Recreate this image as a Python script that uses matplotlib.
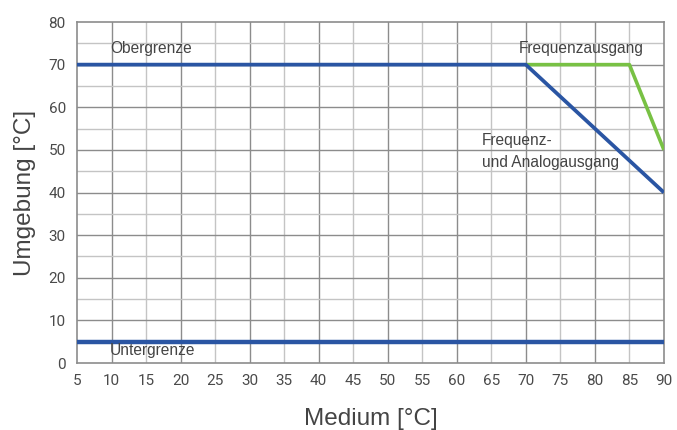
import matplotlib
matplotlib.use("Agg")
import matplotlib.pyplot as plt
import numpy as np

# Daten
medium_analog = [5, 70, 90]
umgebung_analog = [70, 70, 40]
medium_freq = [70, 85, 90]
umgebung_freq = [70, 70, 50]
medium_unten = [5, 90]
umgebung_unten = [5, 5]

x_ticks = list(range(5, 95, 5))
y_ticks = list(range(0, 90, 10))

blau = "#2a55a3"
gruen = "#78c144"
text_grau = "#444444"

fig = plt.figure(figsize=(6.77, 4.30), dpi=100)
ax = fig.add_axes([0.1137, 0.1558, 0.867, 0.793])

ax.set_xlim(5, 90)
ax.set_ylim(0, 80)

# Gitter: volle Zehner dunkler, Fuenfer heller
for xv in x_ticks[1:-1]:
    farbe = "#8c8c8c" if xv % 10 == 0 else "#c4c4c4"
    ax.axvline(xv, color=farbe, lw=1.0, zorder=1)
for yv in np.arange(5, 80, 5):
    farbe = "#8c8c8c" if yv % 10 == 0 else "#c4c4c4"
    ax.axhline(yv, color=farbe, lw=1.0, zorder=1)

ax.plot(medium_freq, umgebung_freq, color=gruen, lw=2.6, zorder=3,
        solid_capstyle="butt")
ax.plot(medium_analog, umgebung_analog, color=blau, lw=2.7, zorder=4,
        solid_capstyle="butt")
ax.plot(medium_unten, umgebung_unten, color=blau, lw=3.2, zorder=4,
        solid_capstyle="butt")

ax.set_xticks(x_ticks)
ax.set_yticks(y_ticks)
ax.tick_params(length=0, pad=8, labelsize=11, labelcolor="#4a4a4a")
for lab in ax.get_xticklabels() + ax.get_yticklabels():
    lab.set_family("Roboto")

for s in ax.spines.values():
    s.set_color("#8c8c8c")
    s.set_linewidth(1.2)

ax.set_xlabel("Medium [°C]", fontsize=17.5, color=text_grau,
              family="Liberation Sans", labelpad=14)
ax.set_ylabel("Umgebung [°C]", fontsize=17.5, color=text_grau,
              family="Liberation Sans", labelpad=9)

txt = dict(fontsize=11.2, color=text_grau, family="Liberation Sans", zorder=5)
ax.text(9.8, 73.9, "Obergrenze", va="center", **txt)
ax.text(9.8, 3.0, "Untergrenze", va="center", **txt)
ax.text(69.0, 73.7, "Frequenzausgang", va="center", **txt)
ax.text(63.6, 52.3, "Frequenz-", va="center", **txt)
ax.text(63.6, 47.0, "und Analogausgang", va="center", **txt)

fig.savefig("out.png", dpi=100)
